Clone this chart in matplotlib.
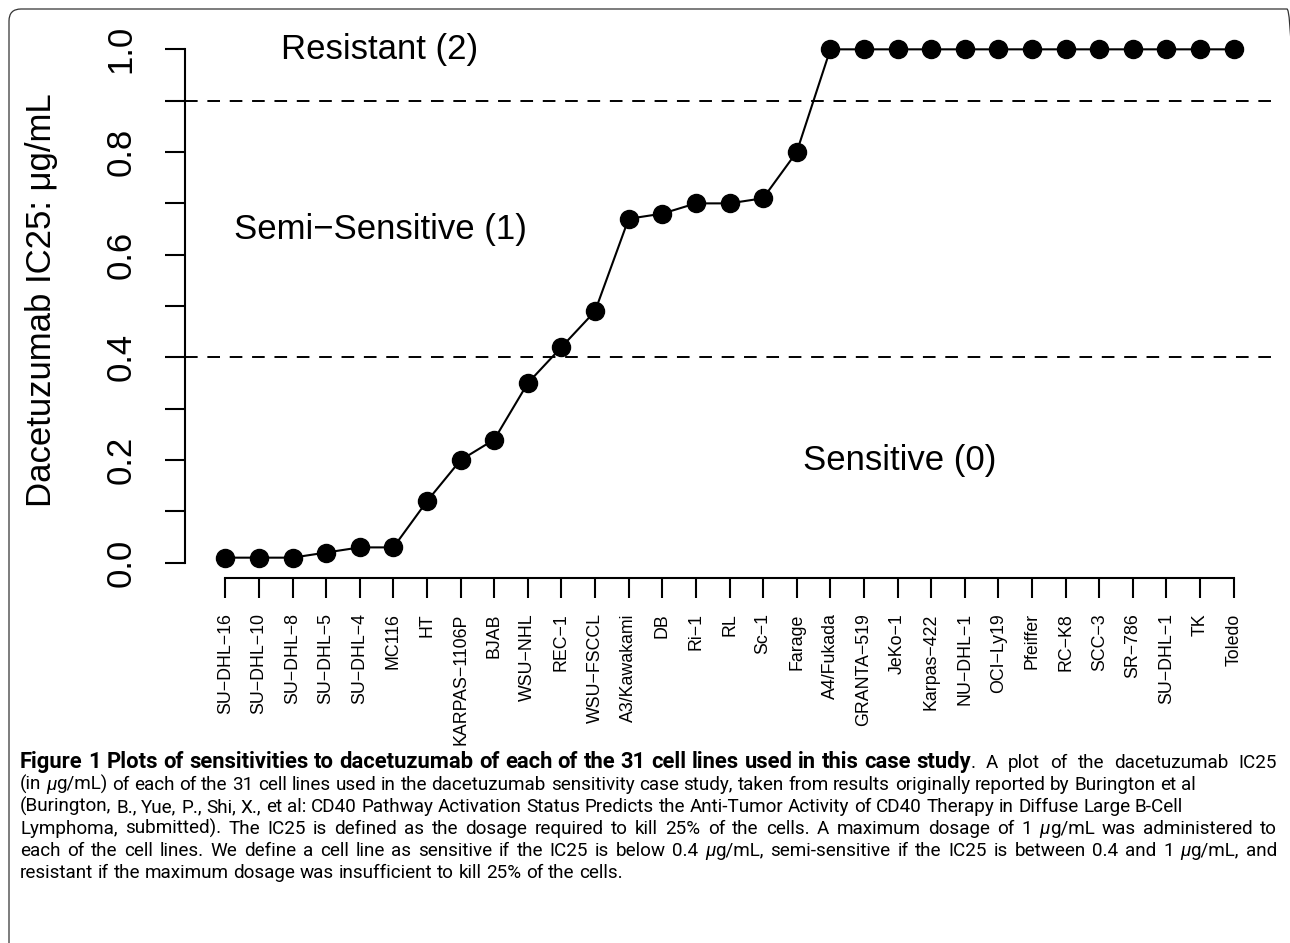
import matplotlib
matplotlib.use("Agg")
import matplotlib.pyplot as plt
from matplotlib.patches import FancyBboxPatch
from matplotlib.transforms import IdentityTransform

# data
cell_lines = [
    "SU−DHL−16", "SU−DHL−10", "SU−DHL−8", "SU−DHL−5", "SU−DHL−4", "MC116",
    "HT", "KARPAS−1106P", "BJAB", "WSU−NHL", "REC−1", "WSU−FSCCL",
    "A3/Kawakami", "DB", "Ri−1", "RL", "Sc−1", "Farage", "A4/Fukada",
    "GRANTA−519", "JeKo−1", "Karpas−422", "NU−DHL−1", "OCI−Ly19", "Pfeiffer",
    "RC−K8", "SCC−3", "SR−786", "SU−DHL−1", "TK", "Toledo",
]
ic25 = [
    0.01, 0.01, 0.01, 0.02, 0.03, 0.03, 0.12, 0.20, 0.24, 0.35, 0.42, 0.49,
    0.67, 0.68, 0.70, 0.70, 0.71, 0.80, 1.00, 1.00, 1.00, 1.00, 1.00, 1.00,
    1.00, 1.00, 1.00, 1.00, 1.00, 1.00, 1.00,
]
thresholds = [0.4, 0.9]
y_ticks = [0.0, 0.1, 0.2, 0.3, 0.4, 0.5, 0.6, 0.7, 0.8, 0.9, 1.0]
y_tick_labels = ["0.0", "", "0.2", "", "0.4", "", "0.6", "", "0.8", "", "1.0"]
y_label = "Dacetuzumab IC25: μg/mL"
region_labels = ["Resistant (2)", "Semi−Sensitive (1)", "Sensitive (0)"]
region_x = [4.6, 4.6, 20.07]
region_y = [1.0, 0.65, 0.2]

caption = [
    ("**Figure 1 Plots of sensitivities to dacetuzumab of each of the 31 cell lines used in this case study**. A plot of the dacetuzumab IC25", True),
    ("(in µg/mL) of each of the 31 cell lines used in the dacetuzumab sensitivity case study, taken from results originally reported by Burington et al", False),
    ("(Burington, B., Yue, P., Shi, X., et al: CD40 Pathway Activation Status Predicts the Anti-Tumor Activity of CD40 Therapy in Diffuse Large B-Cell", False),
    ("Lymphoma, submitted). The IC25 is defined as the dosage required to kill 25% of the cells. A maximum dosage of 1 µg/mL was administered to", True),
    ("each of the cell lines. We define a cell line as sensitive if the IC25 is below 0.4 µg/mL, semi-sensitive if the IC25 is between 0.4 and 1 µg/mL, and", True),
    ("resistant if the maximum dosage was insufficient to kill 25% of the cells.", False),
]

W, H = 1290, 943
CHART_FONT = "Liberation Sans"
CAP_FONT = "Roboto"


def parse_words(line):
    """Split a caption line into words made of (text, bold, italic) pieces."""
    words = []
    bold = False
    for raw in line.split(" "):
        pieces = []
        for k, part in enumerate(raw.split("**")):
            if k > 0:
                bold = not bold
            buf = ""
            for ch in part:
                if ch == "µ":
                    if buf:
                        pieces.append((buf, bold, False))
                        buf = ""
                    pieces.append((ch, bold, True))
                else:
                    buf += ch
            if buf:
                pieces.append((buf, bold, False))
        words.append(pieces)
    return words


def make_text(fig, s, bold, italic, size):
    return fig.text(0, 0, s, transform=IdentityTransform(), family=CAP_FONT,
                    fontsize=size, fontweight="bold" if bold else "normal",
                    fontstyle="italic" if italic else "normal",
                    va="baseline", ha="left")


def text_width(fig, renderer, s, bold, italic, size):
    t = make_text(fig, s, bold, italic, size)
    w = t.get_window_extent(renderer).width
    t.remove()
    return w


def space_width(fig, renderer, bold, size):
    return (text_width(fig, renderer, "a a", bold, False, size)
            - text_width(fig, renderer, "aa", bold, False, size))


def natural_width(fig, renderer, words, size):
    total = sum(text_width(fig, renderer, p[0], p[1], p[2], size) for w in words for p in w)
    return total + space_width(fig, renderer, False, size) * (len(words) - 1)


def draw_caption(fig, x0, x1, y_first, dy, ref_width, bold_width):
    renderer = fig.canvas.get_renderer()
    # pick a size so the unjustified second line has the reference length
    base = 11.0
    size = base * ref_width / natural_width(fig, renderer, parse_words(caption[1][0]), base)
    # bold lead-in of the first line is a touch wider in the reference
    bold_words = [[(p[0], True, p[2]) for p in w if p[1]] for w in parse_words(caption[0][0])]
    bold_words = [w for w in bold_words if w]
    bw = sum(text_width(fig, renderer, p[0], True, p[2], size) for w in bold_words for p in w)
    bw += space_width(fig, renderer, True, size) * (len(bold_words) - 1)
    bold_size = size * bold_width / bw

    for i, (line, justify) in enumerate(caption):
        words = parse_words(line)
        widths = [[text_width(fig, renderer, p[0], p[1], p[2], bold_size if p[1] else size)
                   for p in w] for w in words]
        sp = [space_width(fig, renderer, w[-1][1], bold_size if w[-1][1] else size) for w in words]
        n_bold_gaps = sum(1 for j in range(len(words) - 1) if words[j][-1][1] and words[j + 1][0][1])
        if justify:
            fixed = sum(sp[j] for j in range(len(words) - 1) if words[j][-1][1] and words[j + 1][0][1])
            free = len(words) - 1 - n_bold_gaps
            g = (x1 - x0 - sum(sum(ws) for ws in widths) - fixed) / free
            gap = [sp[j] if (words[j][-1][1] and words[j + 1][0][1]) else g
                   for j in range(len(words) - 1)]
        else:
            gap = sp[:-1]
        y = H - (y_first + i * dy)
        x = x0
        for j, w in enumerate(words):
            for p, pw in zip(w, widths[j]):
                t = make_text(fig, p[0], p[1], p[2], bold_size if p[1] else size)
                t.set_position((x, y))
                x += pw
            if j < len(gap):
                x += gap[j]


fig = plt.figure(figsize=(W / 100, H / 100), dpi=100)
ax = fig.add_axes([185 / W, 1 - 578 / H, 1089 / W, 549 / H])

xs = list(range(len(cell_lines)))
ax.plot(xs, ic25, color="black", lw=1.5, marker="o", ms=13, zorder=3)
for t in thresholds:
    ax.axhline(t, color="black", lw=1.4, ls=(0, (6.5, 5)))

# R-style 4% axis extension
xpad = 0.04 * (len(xs) - 1)
ax.set_xlim(-xpad, len(xs) - 1 + xpad)
ypad = 0.04 * (max(ic25) - min(ic25))
ax.set_ylim(min(ic25) - ypad, max(ic25) + ypad)

for side in ("top", "right"):
    ax.spines[side].set_visible(False)
ax.spines["left"].set_bounds(y_ticks[0], y_ticks[-1])
ax.spines["bottom"].set_bounds(xs[0], xs[-1])
for side in ("left", "bottom"):
    ax.spines[side].set_linewidth(1.5)

ax.set_yticks(y_ticks)
ax.set_yticklabels(y_tick_labels, family=CHART_FONT, fontsize=25, rotation=90, va="center")
ax.tick_params(axis="y", length=14.4, width=1.5, pad=20)

ax.set_xticks(xs)
ax.set_xticklabels(cell_lines, family=CHART_FONT, fontsize=12.8, rotation=90)
ax.tick_params(axis="x", length=14.4, width=1.5, pad=11)

for lab, lx, ly in zip(region_labels, region_x, region_y):
    ax.text(lx, ly, lab, family=CHART_FONT, fontsize=25, ha="center", va="center")

fig.text(42 / W, 1 - 300 / H, y_label, family=CHART_FONT, fontsize=25,
         rotation=90, ha="center", va="center")

# rounded frame around the figure, partly running off the page
frame = FancyBboxPatch((9, -30), 1290, H - 9 + 30,
                       boxstyle="round,pad=0,rounding_size=12",
                       transform=IdentityTransform(), fill=False,
                       edgecolor="#333333", lw=0.9)
fig.add_artist(frame)

draw_caption(fig, 20, 1277, 768, 22, 1172, 953)

fig.savefig("out.png", dpi=100)
